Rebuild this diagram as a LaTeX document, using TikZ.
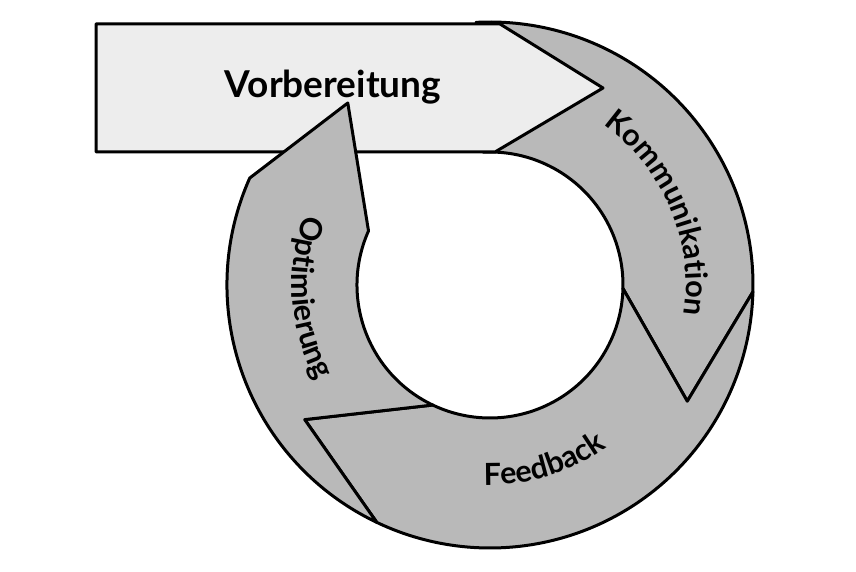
\documentclass[tikz,border=0pt]{standalone}
\usepackage{fontspec}
\setmainfont{Lato}
\usetikzlibrary{decorations.text}
\definecolor{ringgray}{HTML}{B9B9B9}
\definecolor{arrowfill}{HTML}{EDEDED}
\tikzset{
  seg/.style={draw=black, line width=3pt, line join=round, fill=ringgray},
  bigarrow/.style={draw=black, line width=3pt, line join=round, fill=arrowfill},
  ringtext/.style={decorate, decoration={text along path, text align=center, text={|\bfseries\fontsize{30.5}{36}\selectfont|#1}}}
}
\begin{document}
\begin{tikzpicture}[x=1pt,y=1pt]
\useasboundingbox (0,0) rectangle (856,571);
\fill[white] (0,0) rectangle (856,571);
\begin{scope}[shift={(490,286)}]
  % Kommunikation
  \path[seg] (93:133pt) arc[start angle=93,end angle=-1.5,radius=133pt] -- (-30.5:229pt) -- (-1.5:263pt) arc[start angle=-1.5,end angle=93,radius=263pt] -- cycle;
  % Feedback
  \path[seg] (-1.5:133pt) -- (-30.5:229pt) -- (-1.5:263pt) arc[start angle=-1.5,end angle=-115.5,radius=263pt] -- (-144:229pt) -- (-115.5:133pt) arc[start angle=-115.5,end angle=-1.5,radius=133pt] -- cycle;
\end{scope}
% Vorbereitung arrow
\path[bigarrow] (96,547) -- (500,547) -- (603,483) -- (495,419) -- (96,419) -- cycle;
\node (vorb) at (333,473) [anchor=base, font=\bfseries\fontsize{37}{40}\selectfont] {Vorbereitung};
\begin{scope}[shift={(490,286)}]
  % Optimierung
  \path[seg] (244.5:133pt) -- (216:229pt) -- (244.5:263pt) arc[start angle=244.5,end angle=156,radius=263pt] -- (128:231pt) -- (156:133pt) arc[start angle=156,end angle=244.5,radius=133pt] -- cycle;
  % texts
  \path[ringtext=Kommunikation] (62:196pt) arc[start angle=62,end angle=-16,radius=196pt];
  \path[ringtext=Optimierung] (149:198pt) arc[start angle=149,end angle=219,radius=198pt];
  \path[ringtext=Feedback] (-108:200pt) arc[start angle=-108,end angle=-38,radius=200pt];
\end{scope}
\end{tikzpicture}
\end{document}
